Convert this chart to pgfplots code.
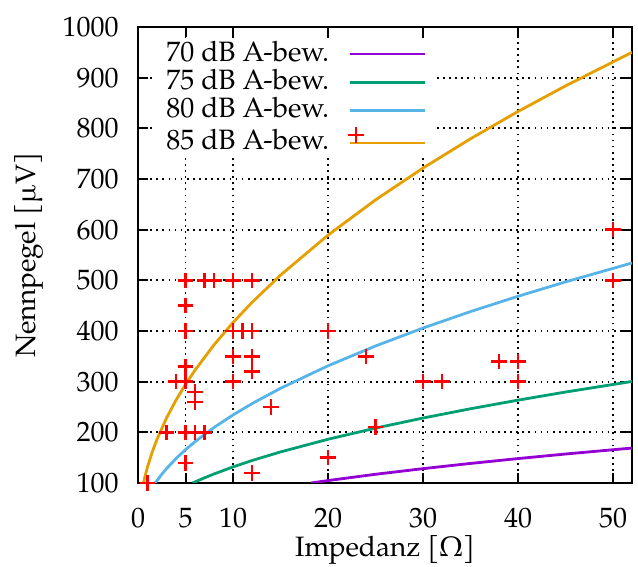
\documentclass[border=0pt]{standalone}
\usepackage{fontspec}
\setmainfont{TeX Gyre Pagella}
\usepackage{pgfplots}
\pgfplotsset{compat=1.18}

\definecolor{c70}{HTML}{9400D3}
\definecolor{c75}{HTML}{009E73}
\definecolor{c80}{HTML}{56B4E9}
\definecolor{c85}{HTML}{E69F00}

% line sample 37.5pt long, like gnuplot's key
\pgfplotsset{
  leg/.style={legend image code/.code={\draw[#1, line width=1.4pt] (0pt,0pt) -- (37.5pt,0pt);}},
}
\newcommand{\xl}[1]{\raisebox{0pt}[17.6pt]{#1}}
\newcommand{\yl}[1]{#1\kern4.8pt}

\begin{document}
\fontsize{14}{16}\selectfont
\begin{tikzpicture}
\begin{axis}[
  name=ax,
  scale only axis, width=247pt, height=228pt,
  xmin=0, xmax=52, ymin=100, ymax=1000,
  xtick={0,5,10,20,30,40,50},
  xticklabels={\xl{0},\xl{5},\xl{10},\xl{20},\xl{30},\xl{40},\xl{50}},
  ytick={100,200,300,400,500,600,700,800,900,1000},
  yticklabels={\yl{100},\yl{200},\yl{300},\yl{400},\yl{500},\yl{600},\yl{700},\yl{800},\yl{900},\yl{1000}},
  xmajorgrids=true, ymajorgrids=true,
  grid style={black, line width=0.85pt, dash pattern=on 0.85pt off 2.2pt},
  axis line style={line width=1pt},
  major tick length=5pt,
  tick style={black, line width=1pt},
  xlabel={Impedanz [Ω]},
  ylabel={Nennpegel [µV]},
  xlabel style={at={(axis description cs:0.5,-0.147)}, anchor=center, inner sep=0pt},
  ylabel style={at={(axis description cs:-0.2206,0.5)}, anchor=center, inner sep=0pt},
  legend cell align=left,
  legend plot pos=right,
  legend style={at={(axis description cs:0.0364,0.970)}, anchor=north west,
    fill=white, draw=none, inner xsep=5pt, inner ysep=0pt,
    row sep=1.15pt, column sep=9pt,
    nodes={inner ysep=0pt, inner xsep=0pt, text height=10pt, text depth=3pt}},
]
\addplot[c70, line width=1.4pt, leg=c70] coordinates {
  (18.22,100) (20,104.8) (25,117.2) (30,128.3) (35,138.6) (40,148.2) (45,157.2) (52,169.0)
};
\addlegendentry{70 dB A-bew.}
\addplot[c75, line width=1.4pt, leg=c75] coordinates {
  (5.762,100) (6,102.0) (7,110.2) (8,117.8) (10,131.7) (12,144.3) (15,161.3) (20,186.3)
  (25,208.3) (30,228.2) (35,246.5) (40,263.5) (45,279.5) (52,300.4)
};
\addlegendentry{75 dB A-bew.}
\addplot[c80, line width=1.4pt, leg=c80] coordinates {
  (1.822,100) (2,104.8) (2.5,117.1) (3,128.3) (4,148.2) (5,165.7) (6,181.5) (8,209.5)
  (10,234.3) (12,256.6) (15,286.9) (20,331.3) (25,370.4) (30,405.8) (35,438.3)
  (40,468.5) (45,496.9) (52,534.2)
};
\addlegendentry{80 dB A-bew.}
\addplot[c85, line width=1.4pt,
  legend image code/.code={
    \draw[c85, line width=1.4pt] (0pt,0pt) -- (37.5pt,0pt);
    \draw[red, line width=1.2pt] (3pt,4pt) +(-3.9pt,0) -- +(3.9pt,0)
      (3pt,4pt) +(0,-3.9pt) -- +(0,3.9pt);
  }] coordinates {
  (0.576,100) (0.7,110.2) (1,131.7) (1.5,161.3) (2,186.3) (3,228.2) (4,263.5)
  (5,294.6) (6,322.7) (8,372.6) (10,416.6) (12,456.4) (15,510.2) (20,589.2)
  (25,658.7) (30,721.6) (35,779.4) (40,833.2) (45,883.7) (52,950.0)
};
\addlegendentry{85 dB A-bew.}
\addplot[only marks, red, mark=+, mark size=3.9pt, line width=1.2pt, forget plot] coordinates {
  (1,100) (3,200) (4,300) (5,300) (5,200) (6,200) (7,200) (5,140) (5,330)
  (6,280) (6,260) (5,400) (5,450) (5,500) (7,500) (8,500) (10,500) (12,500)
  (10,400) (11,400) (12,400) (10,350) (12,350) (12,320) (10,300) (14,250)
  (12,120) (20,400) (24,350) (25,210) (20,150) (50,600) (50,500) (30,300)
  (32,300) (38,340) (40,340) (40,300)
};
\end{axis}
% fix the page margins around the axis box
\path ([xshift=-69pt,yshift=-42pt]ax.south west) ([xshift=3pt,yshift=13.5pt]ax.north east);
\end{tikzpicture}
\end{document}
